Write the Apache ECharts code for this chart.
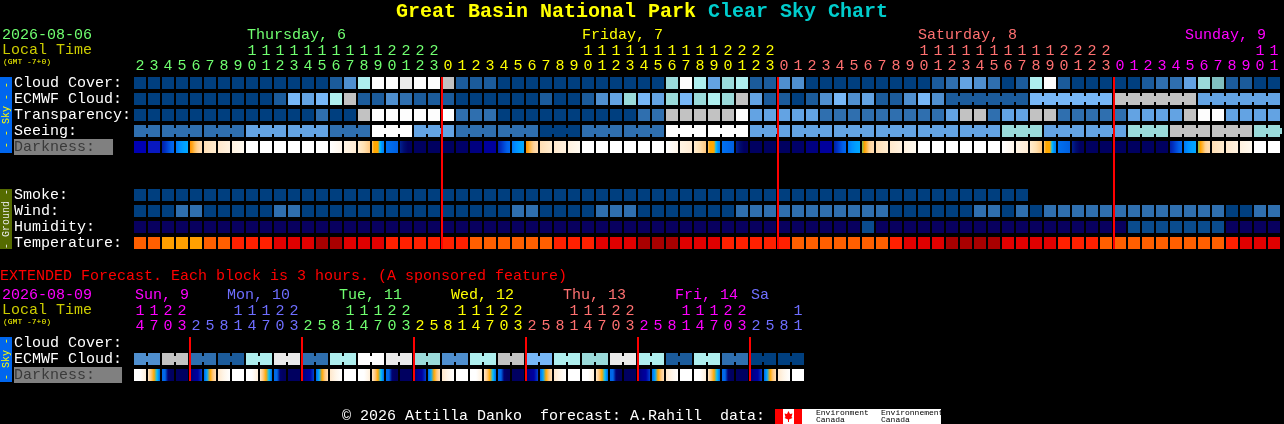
<!DOCTYPE html>
<html><head><meta charset="utf-8">
<style>html,body{margin:0;padding:0;background:#000}#c{width:1284px;height:424px}</style>
<script src="https://cdn.jsdelivr.net/npm/echarts@6/dist/echarts.min.js"></script>
</head><body><div id="c"></div>
<script>
// ---------- DATA ----------
const hourLabels = [2,3,4,5,6,7,8,9,10,11,12,13,14,15,16,17,18,19,20,21,22,23,
 0,1,2,3,4,5,6,7,8,9,10,11,12,13,14,15,16,17,18,19,20,21,22,23,
 0,1,2,3,4,5,6,7,8,9,10,11,12,13,14,15,16,17,18,19,20,21,22,23,
 0,1,2,3,4,5,6,7,8,9,10,11];
const extHourLabels = [14,17,20,23,
 2,5,8,11,14,17,20,23, 2,5,8,11,14,17,20,23, 2,5,8,11,14,17,20,23,
 2,5,8,11,14,17,20,23, 2,5,8,11,14,17,20,23, 2,5,8,11];
const skyRows = ['Cloud Cover:','ECMWF Cloud:','Transparency:','Seeing:','Darkness:','','','Smoke:','Wind:','Humidity:','Temperature:'];
const extRows = ['Cloud Cover:','ECMWF Cloud:','Darkness:'];
const cloudCover = [0,0,0,0,0,0,0,0,0,0,0,0,0,0,1,3,7,10,10,9,10,10,8,1,1,1,0,0,0,0,0,0,0,0,0,0,0,0,6,10,7,4,6,7,1,1,3,3,0,0,0,0,0,0,0,0,0,1,2,4,3,2,0,1,7,10,1,0,0,0,0,0,1,2,2,4,6,11,1,1,0,0];
const ecmwfCloud = [0,0,0,0,0,0,0,0,0,0,1,5,4,5,7,8,1,1,3,2,1,1,1,0,0,0,0,0,0,1,0,0,1,3,4,6,5,4,6,5,6,7,6,8,4,1,1,0,1,3,5,3,4,1,1,3,5,3,1,1,1,1,1,1,5,5,5,5,5,5,8,8,8,8,8,8,4,4,4,4,4,4];
const transparency = [0,0,0,0,0,0,0,0,0,0,0,0,0,2,0,0,8,10,10,10,10,10,10,2,2,2,0,0,0,0,0,0,0,0,0,0,2,2,8,8,8,8,8,10,4,4,4,4,4,2,2,2,2,2,2,2,2,2,4,8,8,2,4,4,8,8,2,2,2,2,2,4,4,4,4,8,10,10,4,4,4,4];
const seeing = [2,2,2,2,2,2,2,2,4,4,4,4,4,4,2,2,2,10,10,10,4,4,4,2,2,2,2,2,2,0,0,0,2,2,2,2,2,2,10,10,10,10,10,10,4,4,4,4,4,4,4,4,4,4,4,4,4,4,4,4,4,4,6,6,6,4,4,4,4,4,4,6,6,6,8,8,8,8,8,8,6,6];
const darkness = [5,6,'S1','S2','S3','D1','D2','D3',9,9,9,9,9,9,'E1','E2','E3','SS','T1','T0',0,0,0,1,2,3,
 'S1','S2','S3','D1','D2','D3',9,9,9,9,9,9,'E1','E2','E3','SS','T1','T0',0,0,0,1,2,3,
 'S1','S2','G3','D1','D2','D3',9,9,9,9,9,9,'E1','E2','E3','SS','T1','T0',0,0,0,0,0,0,
 'S1','S2','G3','D1','D2','D3',9,9];
const smoke = new Array(64).fill(0);
const wind = [0,0,0,2,2,0,0,0,0,0,2,2,0,0,0,0,0,0,0,0,0,0,0,0,0,0,0,2,2,0,0,0,0,2,2,2,0,0,0,0,0,0,0,2,2,2,2,2,2,2,2,2,2,2,0,0,0,0,0,0,2,2,0,2,0,2,2,2,2,2,2,2,2,2,2,2,2,2,0,0,2,2];
const humidity = [0,0,0,0,0,0,0,0,0,0,0,0,0,0,0,0,0,0,0,0,0,0,0,0,0,0,0,0,0,0,0,0,0,0,0,0,0,0,0,0,0,0,0,0,0,0,0,0,0,0,0,0,1,0,0,0,0,0,0,0,0,0,0,0,0,0,0,0,0,0,0,1,1,1,1,1,1,1,0,0,0,0];
const temperature = [0,0,1,1,1,0,0,2,2,2,3,3,3,4,4,3,3,3,2,2,2,2,2,2,0,0,0,0,0,0,2,2,2,3,3,3,4,4,4,3,3,3,2,2,2,2,2,0,0,0,0,0,0,0,2,3,3,3,4,4,4,4,3,3,3,3,2,2,2,0,0,0,0,0,0,0,0,0,2,3,3,3];
const extEcmwfPairs = [3,8,2,1,7,9,2,7,10,9,6,3,7,8,5,7,6,9,7,1,7,2,0,0];
const extDarkCycle = ['X0','X1','X2','X3','X4','X5','X6','X7'];
const midnightCols = [22,46,70];
const extMidnightCols = [4,12,20,28,36,44];
const daysHourly = ['Thursday, 6','Friday, 7','Saturday, 8','Sunday, 9'];
const daysExt = ['Sun, 9','Mon, 10','Tue, 11','Wed, 12','Thu, 13','Fri, 14','Sa'];

// ---------- STYLE / LAYOUT ----------
const cloudPal = ['#003F7F','#1B5B9B','#2F6FAF','#4F8FCF','#63A3E3','#77B7F7','#9ADADA','#AEEEEE','#C2C2C2','#EAEAEA','#FDFDFD','#80BFBF'];
const humidPal = ['#08005F','#0A4C8E'];
const tempPal = ['#FF5F00','#FFA000','#FF2000','#E00000','#A80000'];
const darkPal = {
 0:['#000060'],1:['#000068'],2:['#000080'],3:['#00009c'],5:['#0000b4'],6:['#0818c0'],9:['#ffffff'],
 S1:['#0020a8','#0030c0','#0048d8','#0060e8','#0068f0'],S2:['#0078f4','#0090ff','#00a0ff','#00a8ff'],
 S3:['#ff9000','#ffa820','#ffc060','#ffd090','#ffd8a8','#ffdcb0'],
 G3:['#80c050','#ffa000','#ffb840','#ffd090','#ffd8a8','#ffdcb0'],
 D1:['#ffdeb4','#ffecd0'],D2:['#ffe8cc','#fff2e0'],D3:['#fff2e0','#fffaf0'],
 E1:['#ffffff','#fff6ea'],E2:['#fff4e4','#ffecd4'],E3:['#ffecd0','#ffe0b0','#ffc880'],
 SS:['#ffc870','#ffa800','#ffa800','#ffa800','#00c0ff','#0090ff','#0080f0'],
 T1:['#0070f0','#0060e0'],T0:['#002090','#000c70','#000060','#000060'],
 X0:['#ffffff','#ffffff','#fff0dc'],X1:['#ffe8c8','#ffc880','#ffa800','#00c0ff','#0068e8'],
 X2:['#0068e8','#0068e8','#000070','#000060','#000060'],X3:['#000060'],
 X4:['#000070','#000090','#0000a0','#0040d0'],X5:['#0068e8','#00a8ff','#ffa800','#ffc880','#ffe0b8'],
 X6:['#ffe8cc','#fff6ea','#ffffff'],X7:['#ffffff']
};
const dayColor = {g:'#70FF70',y:'#FFFF00',s:'#FF7070',m:'#FF00FF',b:'#6E6EFF'};
const MONO = '"Liberation Mono","DejaVu Sans Mono",monospace';
const CELL = 12, BAND_LEFT = 133;
const hourColor = i => i<22?dayColor.g:i<46?dayColor.y:i<70?dayColor.s:dayColor.m;
const extColor = i => i<4?dayColor.m:[dayColor.b,dayColor.g,dayColor.y,dayColor.s,dayColor.m,dayColor.b][Math.floor((i-4)/8)];

function cellSeries(name,values,row,pal,opts={}){
  const xi=opts.x||0, yi=opts.y||0, join=opts.join||(()=>false);
  return {type:'custom',name,xAxisIndex:xi,yAxisIndex:yi,clip:false,silent:true,z:3,
    encode:{x:0,y:1},
    data:values.map((v,c)=>[c,row,String(v)]),
    renderItem(p,api){
      const c=api.value(0), pt=api.coord([c,row]), v=values[c], base=pal[v];
      const x=pt[0]-CELL/2, y=pt[1]-CELL/2;
      let fill=base;
      if(Array.isArray(base)) fill = base.length===1?base[0]:new echarts.graphic.LinearGradient(0,0,1,0,
        base.map((col,i)=>({offset:i/(base.length-1),color:col})));
      const kids=[{type:'rect',shape:{x,y,width:CELL,height:CELL},style:{fill}}];
      if(join(c)) kids.push({type:'rect',shape:{x:x+CELL,y:y+3,width:2,height:6},style:{fill}});
      return {type:'group',children:kids};
    }};
}
function lineSeries(name,cols,xi,yi,lastRow){
  return {type:'custom',name,xAxisIndex:xi,yAxisIndex:yi,clip:false,silent:true,z:5,encode:{x:0,y:1},
    data:cols.map(c=>[c,0]),
    renderItem(p,api){
      const c=api.value(0),top=api.coord([c,0]),bot=api.coord([c,lastRow]),bw=api.size([1,1])[0];
      return {type:'rect',shape:{x:top[0]-bw/2,y:top[1]-CELL/2,width:2,height:bot[1]-top[1]+CELL},style:{fill:'#FF0000'}};
    }};
}
const seeingJoin = c => (c+2)%3!==0;
const ecmwfJoin = c => c>=58 && (c+1-58)%6!==0;
const extEcmwf = extEcmwfPairs.flatMap(v=>[v,v]);
const extDark = Array.from({length:48},(_,i)=>extDarkCycle[i%8]);

function txt(text,x,y,color,size,extra={}){
  return {type:'text',x,y,silent:true,z:10,style:Object.assign({text,fill:color,font:(extra.bold?'bold ':'')+size+'px '+MONO,textVerticalAlign:'middle',textAlign:'left'},extra.style||{})};
}
function vtxt(text,x,y,color){
  return {type:'text',x,y,rotation:Math.PI/2,silent:true,z:10,style:{text,fill:color,font:'10px '+MONO,textAlign:'center',textVerticalAlign:'middle'}};
}
function rect(x,y,w,h,fill){return {type:'rect',silent:true,z:9,shape:{x,y,width:w,height:h},style:{fill}};}

const hourXPos=[247,582,918,1185], hourDayCol=[dayColor.g,dayColor.y,dayColor.s,dayColor.m];
const extXPos=[135,227,339,451,563,675,751], extDayCol=[dayColor.m,dayColor.b,dayColor.g,dayColor.y,dayColor.s,dayColor.m,dayColor.b];

const graphics=[
 txt('Great Basin National Park',396,11.5,'#FFFF00',20,{bold:true}),
 txt('Clear Sky Chart',708,11.5,'#00CCCC',20,{bold:true}),
 txt('2026-08-06',2,35,dayColor.g,15),txt('Local Time',2,50,'#CCCC00',15),txt('(GMT -7+0)',3,62,'#FFFF00',8),
 ...daysHourly.map((d,i)=>txt(d,hourXPos[i],35,hourDayCol[i],15)),
 txt('EXTENDED Forecast. Each block is 3 hours. (A sponsored feature)',0,276,'#FF0000',15),
 txt('2026-08-09',2,295,dayColor.m,15),txt('Local Time',2,310,'#CCCC00',15),txt('(GMT -7+0)',3,322,'#FFFF00',8),
 ...daysExt.map((d,i)=>txt(d,extXPos[i],295,extDayCol[i],15)),
 rect(0,77,12,76,'#0066EE'),vtxt('- - Sky - -',6,115,'#FFFF00'),
 rect(0,189,12,60,'#556B00'),vtxt('- Ground -',6,219,'#E8E8E8'),
 rect(0,337,12,45,'#0066EE'),vtxt('- Sky -',6,359,'#FFFF00'),
 txt('\u00A9 2026 Attilla Danko  forecast: A.Rahill  data:',342,416,'#FFFFFF',15),
 rect(775,409,166,15,'#FFFFFF'),rect(775,409,8,15,'#FF0000'),rect(794,409,8,15,'#FF0000'),
 {type:'polygon',silent:true,z:10,shape:{points:[[788.5,411],[790,414],[792.5,413.5],[791.5,417],[792.5,418],[789,419.5],[789,422],[788,422],[788,419.5],[784.5,418],[785.5,417],[784.5,413.5],[787,414]]},style:{fill:'#FF0000'}},
 txt('Environment',816,413,'#000000',8),txt('Canada',816,420,'#000000',8),
 txt('Environnement',881,413,'#000000',8),txt('Canada',881,420,'#000000',8)
];

function xAx(gridIndex,labels,colorFn,digit,offset,margin){
  return {type:'category',gridIndex,position:'top',offset,data:labels.map(String),
    axisLine:{show:false},axisTick:{show:false},splitLine:{show:false},
    axisLabel:{show:true,interval:0,hideOverlap:false,margin,fontFamily:MONO,fontSize:15,
      color:(v,i)=>colorFn(i),
      formatter:(v)=>digit==='ones'?String(Number(v)%10):(Number(v)>=10?String(Math.floor(Number(v)/10)):'')}};
}
const LABEL_PAD = 7;
function yAx(gridIndex,rows,padRight){
  return {type:'category',gridIndex,inverse:true,
    data:rows.map(r=>r==='Darkness:'?{value:r,textStyle:{align:'left',color:'#3A3A3A',backgroundColor:'#808080',padding:[0,padRight,3,0],lineHeight:13,verticalAlign:'middle'}}:{value:r}),
    axisLine:{show:false},axisTick:{show:false},splitLine:{show:false},
    axisLabel:{show:true,interval:0,hideOverlap:false,align:'left',margin:119,color:'#FFFFFF',fontFamily:MONO,fontSize:15,padding:[0,0,LABEL_PAD,0]}};
}

const option={
 animation:false,backgroundColor:'#000000',
 grid:[{left:BAND_LEFT,top:75,width:1148,height:176,containLabel:false,outerBoundsMode:'none'},{left:BAND_LEFT,top:335,width:672,height:48,containLabel:false,outerBoundsMode:'none'}],
 xAxis:[xAx(0,hourLabels,hourColor,'ones',0,1),xAx(0,hourLabels,hourColor,'tens',15,1),
        xAx(1,extHourLabels,extColor,'ones',0,1),xAx(1,extHourLabels,extColor,'tens',15,1)],
 yAxis:[yAx(0,skyRows,18),yAx(1,extRows,27)],
 graphic:{elements:graphics},
 series:[
  cellSeries('Cloud Cover',cloudCover,0,cloudPal),
  cellSeries('ECMWF Cloud',ecmwfCloud,1,cloudPal,{join:ecmwfJoin}),
  cellSeries('Transparency',transparency,2,cloudPal),
  cellSeries('Seeing',seeing,3,cloudPal,{join:seeingJoin}),
  cellSeries('Darkness',darkness,4,darkPal),
  cellSeries('Smoke',smoke,7,cloudPal),
  cellSeries('Wind',wind,8,cloudPal),
  cellSeries('Humidity',humidity,9,humidPal),
  cellSeries('Temperature',temperature,10,tempPal),
  lineSeries('Midnight',midnightCols,0,0,10),
  cellSeries('Ext ECMWF',extEcmwf,1,cloudPal,{x:2,y:1,join:c=>c%2===0}),
  cellSeries('Ext Darkness',extDark,2,darkPal,{x:2,y:1}),
  lineSeries('Ext Midnight',extMidnightCols,2,1,2)
 ]
};
const chart=echarts.init(document.getElementById('c'),null,{renderer:'canvas',width:1284,height:424});
chart.setOption(option);
</script></body></html>
